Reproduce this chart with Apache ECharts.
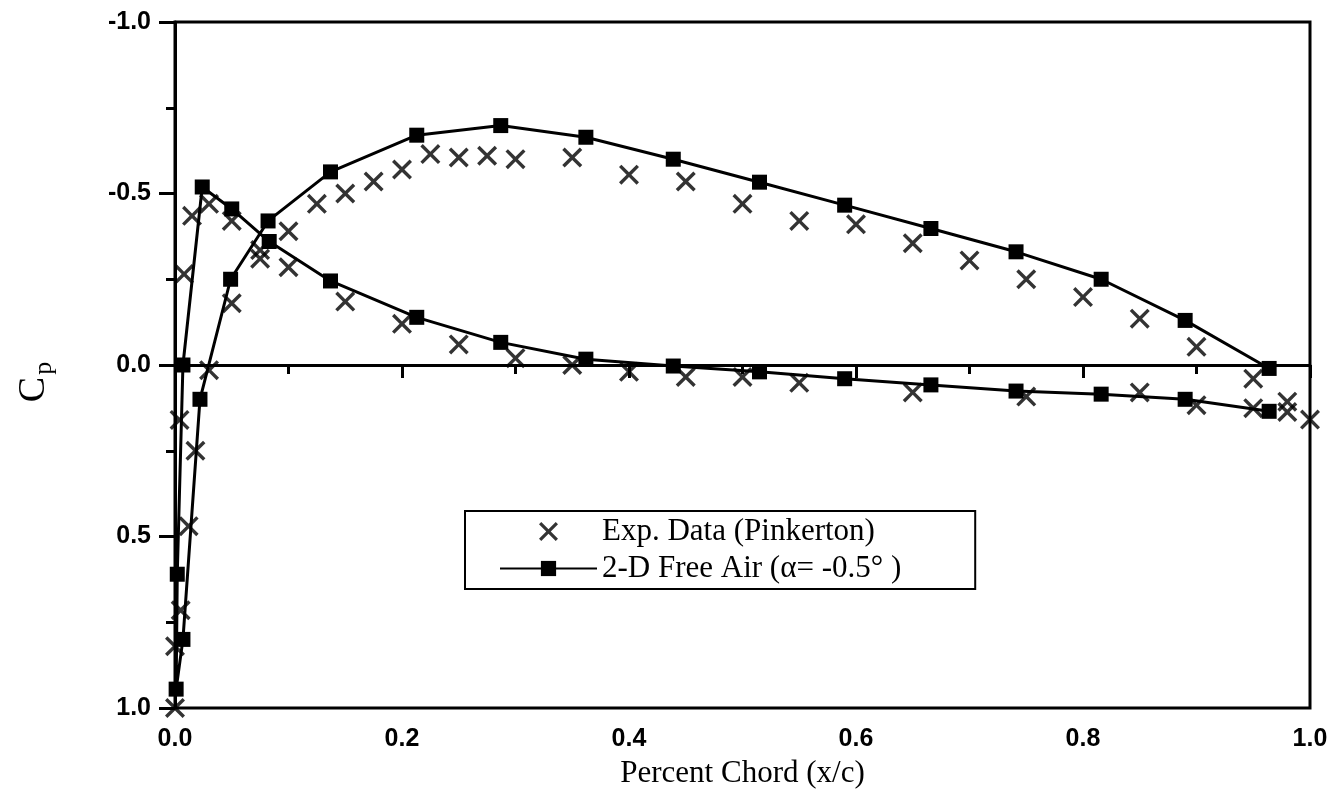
<!DOCTYPE html>
<html>
<head>
<meta charset="utf-8">
<title>Cp - Percent Chord</title>
<script src="https://cdn.jsdelivr.net/npm/echarts@6/dist/echarts.min.js"></script>
<style>
  html, body { margin: 0; padding: 0; background: #fff; }
  #chart { width: 1340px; height: 802px; }
</style>
</head>
<body>
<div id="chart"></div>
<script>
// experimental points (Pinkerton), x/c and Cp
var expX = [0.0, 0.0, 0.005, 0.012, 0.018, 0.004, 0.008, 0.015, 0.03, 0.03,
  0.05, 0.05, 0.075, 0.075, 0.1, 0.1, 0.125, 0.15, 0.15, 0.175,
  0.2, 0.2, 0.225, 0.25, 0.25, 0.275, 0.3, 0.3, 0.35, 0.35,
  0.4, 0.4, 0.45, 0.45, 0.5, 0.5, 0.55, 0.55, 0.6, 0.65,
  0.65, 0.7, 0.75, 0.75, 0.8, 0.85, 0.85, 0.9, 0.9, 0.95,
  0.95, 0.98, 0.98, 1.0];
var expCp = [1.0, 0.82, 0.715, 0.47, 0.25, 0.16, -0.265, -0.435, -0.47, 0.015,
  -0.42, -0.18, -0.335, -0.31, -0.39, -0.285, -0.47, -0.50, -0.185, -0.535,
  -0.57, -0.12, -0.615, -0.605, -0.06, -0.61, -0.60, -0.02, -0.605, 0.0,
  -0.555, 0.02, -0.535, 0.035, -0.47, 0.035, -0.42, 0.052, -0.41, -0.355,
  0.08, -0.305, -0.25, 0.092, -0.198, -0.135, 0.08, -0.053, 0.117, 0.04,
  0.126, 0.107, 0.137, 0.159];

// 2-D free air calc, from upper trailing edge round the nose to lower trailing edge
var freeAirX = [0.964, 0.89, 0.816, 0.741, 0.666, 0.59, 0.515, 0.439, 0.362, 0.287,
  0.213, 0.137, 0.082, 0.049, 0.022, 0.007, 0.001, 0.002, 0.007, 0.024,
  0.05, 0.083, 0.137, 0.213, 0.287, 0.362, 0.439, 0.515, 0.59, 0.666,
  0.741, 0.816, 0.89, 0.964];
var freeAirCp = [0.01, -0.13, -0.25, -0.33, -0.398, -0.466, -0.533, -0.60, -0.664, -0.698,
  -0.67, -0.563, -0.42, -0.25, 0.10, 0.80, 0.945, 0.61, 0.0, -0.519,
  -0.455, -0.36, -0.245, -0.139, -0.066, -0.017, 0.003, 0.02, 0.04, 0.058,
  0.076, 0.085, 0.10, 0.135];

var expName = 'Exp. Data (Pinkerton)';
var freeAirName = '2-D Free Air (\u03b1= -0.5\u00b0 )';

function pairs(xs, ys) {
  return xs.map(function (x, i) { return [x, ys[i]]; });
}

// filled X shape, since echarts has no cross symbol
var crossPath = 'path://M0,1.2 L1.2,0 L5,3.8 L8.8,0 L10,1.2 L6.2,5 L10,8.8 L8.8,10 L5,6.2 L1.2,10 L0,8.8 L3.8,5 Z';

var chart = echarts.init(document.getElementById('chart'), null, { renderer: 'canvas' });

var option = {
  backgroundColor: '#fff',
  animation: false,
  grid: {
    left: 175,
    right: 30,
    top: 22,
    bottom: 94,
    show: true,
    borderColor: '#000',
    borderWidth: 3
  },
  legend: {
    orient: 'vertical',
    left: 465,
    top: 511,
    padding: [5, 74, 5, 34],
    itemWidth: 97,
    itemHeight: 19,
    itemGap: 6,
    selectedMode: false,
    backgroundColor: '#fff',
    borderColor: '#000',
    borderWidth: 2,
    borderRadius: 0,
    textStyle: { fontFamily: 'Liberation Serif', fontSize: 31, color: '#000' },
    data: [
      { name: expName, icon: crossPath },
      { name: freeAirName }
    ]
  },
  xAxis: {
    type: 'value',
    min: 0,
    max: 1,
    interval: 0.2,
    name: 'Percent Chord (x/c)',
    nameLocation: 'middle',
    nameGap: 50,
    nameTextStyle: { fontFamily: 'Liberation Serif', fontSize: 31, color: '#000' },
    axisLine: { lineStyle: { color: '#000', width: 3 } },
    axisTick: { inside: false, length: 13, lineStyle: { color: '#000', width: 3 } },
    minorTick: { show: true, splitNumber: 2, length: 9, lineStyle: { color: '#000', width: 3 } },
    splitLine: { show: false },
    axisLabel: {
      margin: 19,
      fontFamily: 'Liberation Sans',
      fontWeight: 'bold',
      fontSize: 25,
      color: '#000',
      formatter: function (v) { return v.toFixed(1); }
    }
  },
  yAxis: {
    type: 'value',
    inverse: true,
    min: -1,
    max: 1,
    interval: 0.5,
    name: '{c|C}{p|p}',
    nameLocation: 'middle',
    nameRotate: 90,
    nameGap: 118,
    nameTextStyle: {
      color: '#000',
      padding: [0, 34, 0, 0],
      rich: {
        c: { fontFamily: 'Liberation Serif', fontSize: 38, color: '#000' },
        p: { fontFamily: 'Liberation Serif', fontSize: 26, color: '#000', padding: [20, 0, 0, 2] }
      }
    },
    axisLine: { lineStyle: { color: '#000', width: 3 } },
    axisTick: { inside: false, length: 16, lineStyle: { color: '#000', width: 3 } },
    minorTick: { show: true, splitNumber: 2, length: 9, lineStyle: { color: '#000', width: 3 } },
    splitLine: { show: false },
    axisLabel: {
      margin: 24,
      fontFamily: 'Liberation Sans',
      fontWeight: 'bold',
      fontSize: 25,
      color: '#000',
      formatter: function (v) { return v.toFixed(1); }
    }
  },
  series: [
    {
      name: expName,
      type: 'scatter',
      symbol: crossPath,
      symbolSize: 20,
      symbolKeepAspect: true,
      clip: false,
      itemStyle: { color: '#000' },
      data: pairs(expX, expCp)
    },
    {
      name: freeAirName,
      type: 'line',
      symbol: 'rect',
      symbolSize: 15,
      showAllSymbol: true,
      clip: false,
      lineStyle: { color: '#000', width: 3 },
      itemStyle: { color: '#000' },
      data: pairs(freeAirX, freeAirCp)
    }
  ]
};

chart.setOption(option);
</script>
</body>
</html>
